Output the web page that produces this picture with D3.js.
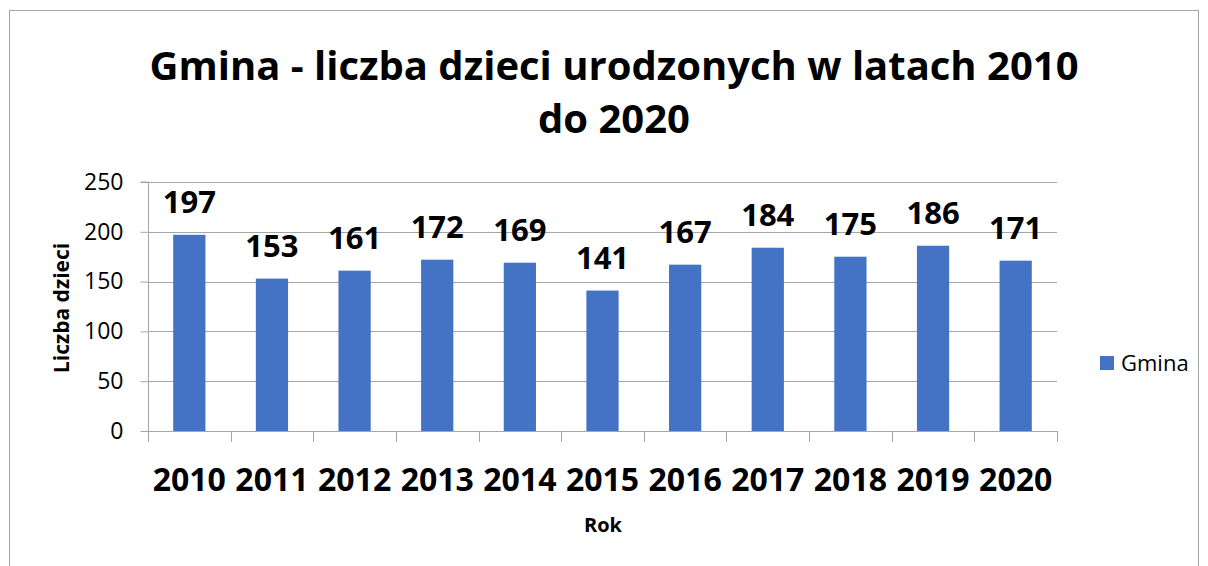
<!DOCTYPE html>
<html><head><meta charset="utf-8">
<script src="https://cdn.jsdelivr.net/npm/d3@7"></script>
<style>body{margin:0;background:#fff}svg{display:block}text{font-family:"Open Sans",sans-serif}</style>
</head><body>
<script>
const categories = ["2010","2011","2012","2013","2014","2015","2016","2017","2018","2019","2020"];
const values = [197,153,161,172,169,141,167,184,175,186,171];
const yTicks = [0,50,100,150,200,250];
const seriesName = "Gmina";
const titleLines = ["Gmina - liczba dzieci urodzonych w latach 2010","do 2020"];

const W=1208,H=566;
const svg=d3.select("body").append("svg").attr("width",W).attr("height",H);
svg.append("rect").attr("x",9.5).attr("y",10.5).attr("width",1189).attr("height",570).attr("fill","#fff").attr("stroke","#a6a6a6");

const L=148,R=1057,T=182,B=431;
const x=d3.scaleBand().domain(categories).range([L,R]).paddingInner(0.61).paddingOuter(0.305);
const xb=d3.scaleBand().domain(categories).range([L,R]);
const y=d3.scaleLinear().domain([0,250]).range([B,T]);
const blue="#4472c4", grid="#a6a6a6";

// gridlines
svg.append("g").selectAll("line").data(yTicks.filter(d=>d>0)).join("line")
 .attr("x1",L).attr("x2",R).attr("y1",d=>Math.round(y(d))+0.5).attr("y2",d=>Math.round(y(d))+0.5)
 .attr("stroke",grid).attr("stroke-width",1);

// y axis
const ya=svg.append("g").attr("transform",`translate(${L+0.5},0)`).call(d3.axisLeft(y).tickValues(yTicks).tickSize(8).tickPadding(17));
ya.select(".domain").attr("stroke",grid).attr("d",`M-8,${T}H0V${B}`);
ya.selectAll(".tick line").attr("stroke",grid);
ya.selectAll(".tick text").attr("font-size",23).attr("fill","#000").attr("font-family","Open Sans");

// bars
svg.append("g").selectAll("rect").data(values).join("rect")
 .attr("x",(d,i)=>x(categories[i])).attr("width",x.bandwidth())
 .attr("y",d=>y(d)).attr("height",d=>B-y(d)).attr("fill",blue);

// x axis
svg.append("line").attr("x1",L).attr("x2",R).attr("y1",B+0.5).attr("y2",B+0.5).attr("stroke",grid);
const bounds=categories.map(c=>xb(c)).concat([R]);
svg.append("g").selectAll("line").data(bounds).join("line")
 .attr("x1",d=>Math.round(d)+0.5).attr("x2",d=>Math.round(d)+0.5).attr("y1",B).attr("y2",B+11).attr("stroke",grid);
svg.append("g").selectAll("text").data(categories).join("text")
 .attr("x",d=>xb(d)+xb.bandwidth()/2).attr("y",491).attr("text-anchor","middle")
 .attr("font-size",32).attr("font-weight","bold").text(d=>d);

// data labels
svg.append("g").selectAll("text").data(values).join("text")
 .attr("x",(d,i)=>xb(categories[i])+xb.bandwidth()/2).attr("y",d=>y(d)-22).attr("text-anchor","middle")
 .attr("font-size",31).attr("font-weight","bold").text(d=>d);

// title
svg.append("g").selectAll("text").data(titleLines).join("text")
 .attr("x",614).attr("y",(d,i)=>80+i*53).attr("text-anchor","middle")
 .attr("font-size",40).attr("font-weight","bold").text(d=>d);

// axis titles
svg.append("text").attr("transform","translate(69,308) rotate(-90)").attr("text-anchor","middle")
 .attr("font-size",21).attr("font-weight","bold").text("Liczba dzieci");
svg.append("text").attr("x",603).attr("y",532).attr("text-anchor","middle")
 .attr("font-size",20).attr("font-weight","bold").text("Rok");

// legend
svg.append("rect").attr("x",1100).attr("y",356).attr("width",14).attr("height",14).attr("fill",blue);
svg.append("text").attr("x",1121).attr("y",371).attr("font-size",22).text(seriesName);
</script>
</body></html>
